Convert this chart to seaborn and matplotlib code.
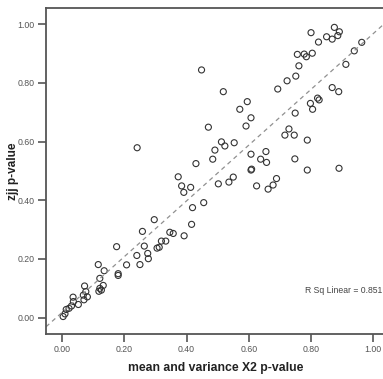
import matplotlib
matplotlib.use("Agg")
import matplotlib.pyplot as plt
import seaborn as sns
import pandas as pd
import numpy as np

# mean and variance X2 p-value
x_vals = [
    0.448, 0.800, 0.875, 0.891, 0.886, 0.868, 0.850, 0.824, 0.963, 0.939,
    0.912, 0.756, 0.778, 0.785, 0.804, 0.761, 0.751, 0.723, 0.693, 0.518,
    0.868, 0.889, 0.571, 0.595, 0.607, 0.591, 0.470, 0.798, 0.821, 0.826,
    0.805, 0.749, 0.729, 0.716, 0.746, 0.788, 0.748, 0.788, 0.890, 0.607,
    0.655, 0.638, 0.657, 0.609, 0.607, 0.625, 0.662, 0.678, 0.689, 0.553,
    0.523, 0.512, 0.491, 0.484, 0.430, 0.550, 0.536, 0.502, 0.373, 0.384,
    0.391, 0.413, 0.241, 0.419, 0.455, 0.416, 0.392, 0.357, 0.346, 0.333,
    0.319, 0.312, 0.305, 0.296, 0.258, 0.264, 0.275, 0.277, 0.240, 0.250,
    0.175, 0.207, 0.180, 0.180, 0.116, 0.135, 0.121, 0.132, 0.121, 0.126,
    0.118, 0.072, 0.076, 0.081, 0.068, 0.070, 0.035, 0.036, 0.052, 0.030,
    0.022, 0.013, 0.009, 0.003,
]
# zjj p-value
y_vals = [
    0.844, 0.971, 0.989, 0.974, 0.961, 0.949, 0.957, 0.939, 0.938, 0.909,
    0.863, 0.897, 0.898, 0.889, 0.901, 0.858, 0.823, 0.807, 0.779, 0.770,
    0.784, 0.770, 0.710, 0.736, 0.681, 0.653, 0.649, 0.730, 0.748, 0.742,
    0.710, 0.697, 0.643, 0.622, 0.622, 0.605, 0.541, 0.503, 0.509, 0.557,
    0.566, 0.540, 0.529, 0.506, 0.503, 0.449, 0.438, 0.452, 0.474, 0.596,
    0.585, 0.599, 0.571, 0.540, 0.525, 0.479, 0.462, 0.456, 0.480, 0.449,
    0.427, 0.444, 0.579, 0.375, 0.392, 0.318, 0.279, 0.287, 0.291, 0.261,
    0.261, 0.240, 0.237, 0.334, 0.294, 0.244, 0.219, 0.201, 0.212, 0.181,
    0.242, 0.180, 0.150, 0.144, 0.181, 0.160, 0.134, 0.110, 0.100, 0.094,
    0.090, 0.108, 0.089, 0.071, 0.077, 0.061, 0.070, 0.055, 0.045, 0.040,
    0.032, 0.028, 0.013, 0.004,
]
tick_vals = [0.0, 0.2, 0.4, 0.6, 0.8, 1.0]
tick_labels = ["0.00", "0.20", "0.40", "0.60", "0.80", "1.00"]
x_label = "mean and variance X2 p-value"
y_label = "zjj p-value"
r2_text = "R Sq Linear = 0.851"

df = pd.DataFrame({"x": x_vals, "y": y_vals})

sns.set_style("ticks")
plt.rcParams["font.family"] = ["Liberation Sans", "DejaVu Sans"]

fig = plt.figure(figsize=(3.83, 3.79), dpi=100)
ax = fig.add_axes([46 / 383, 45 / 379, 340 / 383, 326 / 379])
ax.set_xlim(-0.052, 1.041)
ax.set_ylim(-0.0555, 1.055)

sns.scatterplot(data=df, x="x", y="y", ax=ax, marker="o", s=19,
                facecolor="none", edgecolor="#333333", linewidth=0.8)
sns.regplot(data=df, x="x", y="y", ax=ax, scatter=False, ci=None,
            truncate=False,
            line_kws=dict(color="#909090", linewidth=0.9, linestyle=(0, (3.5, 3))))

ax.set_xticks(tick_vals)
ax.set_xticklabels(tick_labels)
ax.set_yticks(tick_vals)
ax.set_yticklabels(tick_labels)
ax.tick_params(axis="both", direction="out", length=6, width=1.2,
               color="#555555", labelcolor="#555555", labelsize=6.3, pad=2)

for side in ["left", "bottom", "top", "right"]:
    ax.spines[side].set_visible(True)
    ax.spines[side].set_color("#555555")
    ax.spines[side].set_linewidth(1.3)

ax.set_xlabel(x_label, fontsize=8.8, fontweight="bold", color="#222222")
ax.xaxis.set_label_coords(0.5, -0.105)
ax.xaxis.label.set_va("center")
ax.set_ylabel(y_label, fontsize=8.5, fontweight="bold", color="#222222")
ax.yaxis.set_label_coords(-0.097, 0.5)
ax.yaxis.label.set_va("center")

ax.text(0.988, 0.132, r2_text, transform=ax.transAxes, ha="right", va="center",
        fontsize=6.2, color="#444444")

fig.savefig("out.png", dpi=100, facecolor="white")
